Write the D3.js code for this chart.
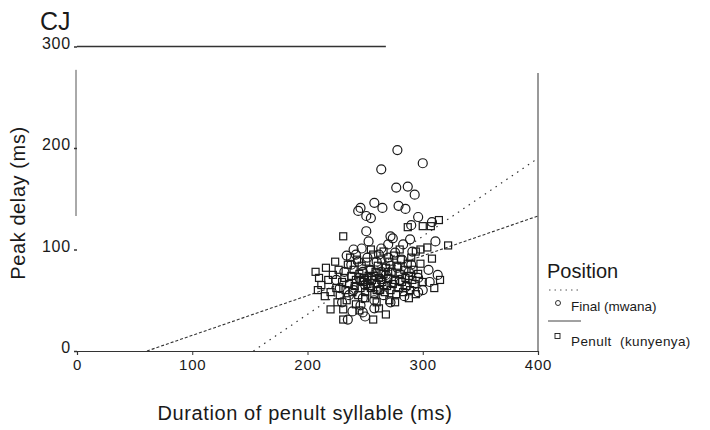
<!DOCTYPE html>
<html>
<head>
<meta charset="utf-8">
<script src="https://cdn.jsdelivr.net/npm/d3@7"></script>
<style>
  body { margin: 0; background: #fff; }
  text { font-family: "Liberation Sans", Arial, sans-serif; fill: #1a1a1a; }
</style>
</head>
<body>
<svg id="chart" width="710" height="430"></svg>
<script>
// ---- data ----
const title = "CJ";
const xTicks = [0, 100, 200, 300, 400];
const yTicks = [0, 100, 200, 300];
const seriesNames = ["Final (mwana)", "Penult  (kunyenya)"];

// Final (mwana) — circles: [duration of penult (ms), peak delay (ms)]
const finalPoints = [
  [278,198],[300,185],[264,179],[277,161],[287,162],[293,154],[258,146],[265,141],
  [246,141],[244,138],[255,131],[251,133],[279,143],[285,140],[296,132],[251,118],
  [272,113],[274,111],[247,101],[264,101],[234,94],[242,95],[291,98],[313,75],
  [306,68],[296,58],[284,54],[239,39],[248,38],[235,31],[250,34],[290,124],[308,127],
  [311,108],
  [225,70],[232,78],[238,85],[245,72],[250,65],[255,80],[260,88],[262,60],[268,75],
  [270,92],[275,68],[278,82],[282,90],[285,63],[288,78],[290,85],[240,60],[236,55],
  [248,52],[258,50],[266,55],[272,48],[280,70],[244,88],[252,92],[228,62],[262,95],
  [270,105],[276,97],[283,105],[289,110],[253,108],[240,100],[300,60],[305,80],
  [296,72],[230,48],[258,42],[246,45],[266,65],[256,72],[264,78],[272,84],[248,78]
];
// Penult (kunyenya) — squares
const penultPoints = [
  [231,113],[287,122],[300,123],[307,123],[314,129],[304,102],[308,91],[322,104],
  [294,98],[207,78],[210,72],[209,60],[215,54],[220,41],[231,41],[231,31],[268,36],
  [257,31],[271,50],
  [212,65],[218,70],[220,58],[222,75],[225,62],[227,80],[228,55],[230,68],[232,72],
  [233,60],[235,85],[236,66],[238,74],[239,58],[240,80],[241,64],[242,70],[243,90],
  [244,55],[245,76],[246,62],[247,84],[248,68],[249,72],[250,58],[251,88],[252,66],
  [253,74],[254,80],[255,62],[256,70],[257,95],[258,56],[259,78],[260,66],[261,84],
  [262,72],[263,60],[264,90],[265,68],[266,76],[267,58],[268,82],[269,64],[270,72],
  [271,88],[272,60],[273,78],[274,66],[275,94],[276,70],[277,56],[278,84],[279,62],
  [280,76],[281,90],[282,68],[283,58],[284,80],[285,72],[286,64],[287,86],[288,74],
  [289,60],[290,92],[291,70],[292,80],[293,66],[294,56],[296,76],[298,86],[300,68],
  [226,48],[234,50],[242,46],[250,52],[260,48],[276,48],[288,52],[237,92],[255,100],
  [266,98],[280,100],[216,82],[224,88],[298,100],[310,62],[315,70],[245,40],[262,42],
  [252,70],[258,74],[264,70],[270,78],[246,70],[260,60],[254,64]
];
// regression lines: [slope, intercept]
const finalFit = [0.769, -117.7];
const penultFit = [0.392, -23.8];

// ---- drawing ----
const svg = d3.select("#chart");
const x = d3.scaleLinear().domain([0, 400]).range([77, 538]);
const y = d3.scaleLinear().domain([0, 300]).range([351, 46.5]);
const ink = "#1a1a1a";

// title
svg.append("text").attr("x", 40).attr("y", 30).attr("font-size", 25).text(title);

// frame pieces (as in the scanned figure)
svg.append("line").attr("x1", x(0)).attr("x2", x(268)).attr("y1", y(300)).attr("y2", y(300))
  .attr("stroke", "#333").attr("stroke-width", 1.3);
svg.append("line").attr("x1", x(0) - 1).attr("x2", x(0) - 1).attr("y1", y(277)).attr("y2", y(133))
  .attr("stroke", "#555").attr("stroke-width", 1);
svg.append("line").attr("x1", x(400)).attr("x2", x(400)).attr("y1", y(274)).attr("y2", y(0))
  .attr("stroke", "#555").attr("stroke-width", 1.2);

// x axis
const xAxis = svg.append("g").attr("transform", `translate(0,${y(0)})`)
  .call(d3.axisBottom(x).tickValues(xTicks).tickSize(4).tickPadding(4).tickFormat(d3.format("d")));
xAxis.attr("font-size", 15).attr("font-family", "Liberation Sans, Arial, sans-serif");
xAxis.select(".domain").attr("stroke", "#333").attr("stroke-width", 1.2);
xAxis.selectAll(".tick line").attr("stroke", "#333");
xAxis.selectAll("text").attr("letter-spacing", "0.8px").attr("fill", ink);

// y axis (ticks only)
const yAxis = svg.append("g").attr("transform", `translate(${x(0)},0)`)
  .call(d3.axisLeft(y).tickValues(yTicks).tickSize(3).tickPadding(3).tickFormat(d3.format("d")));
yAxis.attr("font-size", 16).attr("font-family", "Liberation Sans, Arial, sans-serif");
yAxis.select(".domain").remove();
yAxis.selectAll(".tick line").attr("stroke", "#333").attr("stroke-width", 1.5);
yAxis.selectAll("text").attr("letter-spacing", "0.8px").attr("fill", ink).attr("dy", "0.1em");

// axis titles
svg.append("text").attr("x", 305).attr("y", 420).attr("text-anchor", "middle")
  .attr("font-size", 20).attr("letter-spacing", "0.6px").text("Duration of penult syllable (ms)");
svg.append("text").attr("transform", `translate(25,203) rotate(-90)`).attr("text-anchor", "middle")
  .attr("font-size", 20).attr("letter-spacing", "0.6px").text("Peak delay (ms)");

// regression lines
function fitLine(fit) {
  const x0 = -fit[1] / fit[0];
  return [[x0, 0], [400, fit[0] * 400 + fit[1]]];
}
const line = d3.line().x(d => x(d[0])).y(d => y(d[1]));
svg.append("path").datum(fitLine(penultFit)).attr("d", line)
  .attr("fill", "none").attr("stroke", "#333").attr("stroke-width", 1.1).attr("stroke-dasharray", "3,2");
svg.append("path").datum(fitLine(finalFit)).attr("d", line)
  .attr("fill", "none").attr("stroke", "#333").attr("stroke-width", 1.2).attr("stroke-dasharray", "1.5,5");

// points
svg.append("g").selectAll("rect").data(penultPoints).join("rect")
  .attr("x", d => x(d[0]) - 3.5).attr("y", d => y(d[1]) - 3.5)
  .attr("width", 7).attr("height", 7)
  .attr("fill", "none").attr("stroke", ink).attr("stroke-width", 1.2);
svg.append("g").selectAll("circle").data(finalPoints).join("circle")
  .attr("cx", d => x(d[0])).attr("cy", d => y(d[1])).attr("r", 4.5)
  .attr("fill", "none").attr("stroke", ink).attr("stroke-width", 1.2);

// legend
const lg = svg.append("g");
lg.append("text").attr("x", 547).attr("y", 278).attr("font-size", 20).text("Position");
lg.append("line").attr("x1", 549).attr("x2", 580).attr("y1", 290).attr("y2", 290)
  .attr("stroke", "#555").attr("stroke-dasharray", "1.5,4");
lg.append("circle").attr("cx", 558).attr("cy", 303).attr("r", 2.5)
  .attr("fill", "none").attr("stroke", ink).attr("stroke-width", 0.9);
lg.append("text").attr("x", 571).attr("y", 311).attr("font-size", 13.5).text(seriesNames[0]);
lg.append("line").attr("x1", 548).attr("x2", 581).attr("y1", 321).attr("y2", 321)
  .attr("stroke", "#444").attr("stroke-width", 1);
lg.append("rect").attr("x", 555).attr("y", 333.5).attr("width", 5).attr("height", 5)
  .attr("fill", "none").attr("stroke", ink).attr("stroke-width", 0.9);
lg.append("text").attr("x", 571).attr("y", 346).attr("font-size", 13.5).attr("letter-spacing", "0.4px")
  .style("white-space", "pre").text(seriesNames[1]);
</script>
</body>
</html>
